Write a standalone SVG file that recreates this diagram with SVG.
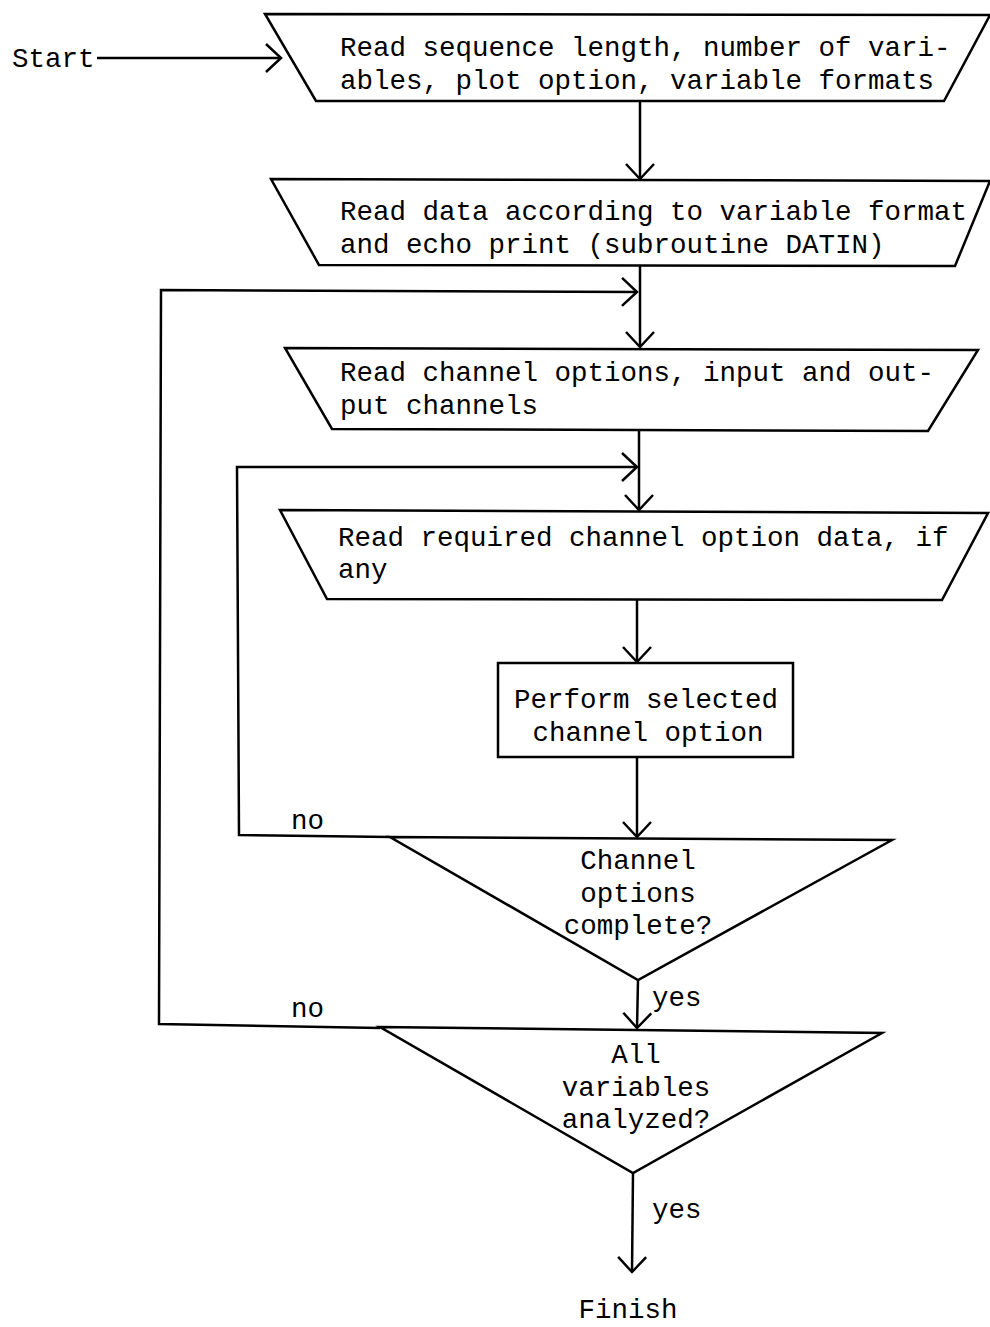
<svg xmlns="http://www.w3.org/2000/svg" width="990" height="1327" viewBox="0 0 990 1327">
<style>
.s{fill:none;stroke:#000;stroke-width:2.5;stroke-linejoin:miter}
.b{fill:#fff;stroke:#000;stroke-width:2.5}
.t{font-family:"Liberation Mono",monospace;font-size:27.5px;fill:#000}
.c{text-anchor:middle}
</style>
<defs>
<marker id="chev" markerUnits="userSpaceOnUse" markerWidth="40" markerHeight="40" refX="0" refY="0" orient="auto" overflow="visible">
<path d="M -15 -14 L 0 0 L -15 14" fill="none" stroke="#000" stroke-width="2.5"/>
</marker>
</defs>
<rect width="990" height="1327" fill="#fff"/>
<g id="connectors">
<line class="s" x1="97" y1="58" x2="281" y2="58" marker-end="url(#chev)"/>
<line class="s" x1="640" y1="101" x2="640" y2="179" marker-end="url(#chev)"/>
<line class="s" x1="640" y1="266" x2="640" y2="347" marker-end="url(#chev)"/>
<polyline class="s" points="380,1028 159,1024 161,290 637,292" marker-end="url(#chev)"/>
<line class="s" x1="639" y1="430" x2="639" y2="510" marker-end="url(#chev)"/>
<polyline class="s" points="390,837 239,835 237,467 637,467" marker-end="url(#chev)"/>
<line class="s" x1="637" y1="600" x2="637" y2="662" marker-end="url(#chev)"/>
<line class="s" x1="637" y1="757" x2="637" y2="837" marker-end="url(#chev)"/>
<line class="s" x1="638" y1="980" x2="637" y2="1028" marker-end="url(#chev)"/>
<line class="s" x1="633" y1="1173" x2="632" y2="1272" marker-end="url(#chev)"/>
<text class="t" x="291" y="829">no</text>
<text class="t" x="291" y="1017">no</text>
<text class="t" x="652" y="1006">yes</text>
<text class="t" x="652" y="1218">yes</text>
</g>
<g id="start"><text class="t" x="12" y="67">Start</text></g>
<g id="read-params">
<polygon class="b" points="265,14 990,15 944,101 316,101"/>
<text class="t" x="340" y="56">Read sequence length, number of vari-</text>
<text class="t" x="340" y="89">ables, plot option, variable formats</text>
</g>
<g id="read-data">
<polygon class="b" points="271,179 990,181 955,266 319,265"/>
<text class="t" x="340" y="220">Read data according to variable format</text>
<text class="t" x="340" y="253">and echo print (subroutine DATIN)</text>
</g>
<g id="read-channel-options">
<polygon class="b" points="285,348 978,350 928,431 332,429"/>
<text class="t" x="340" y="381">Read channel options, input and out-</text>
<text class="t" x="340" y="414">put channels</text>
</g>
<g id="read-option-data">
<polygon class="b" points="280,510 988,513 942,600 327,599"/>
<text class="t" x="338" y="546">Read required channel option data, if</text>
<text class="t" x="338" y="578">any</text>
</g>
<g id="perform-option">
<rect class="b" x="498" y="663" width="295" height="94"/>
<text class="t c" x="646" y="708">Perform selected</text>
<text class="t c" x="648" y="741">channel option</text>
</g>
<g id="channel-complete">
<polygon class="b" points="390,837 892,840 638,980"/>
<text class="t c" x="638" y="869">Channel</text>
<text class="t c" x="638" y="902">options</text>
<text class="t c" x="638" y="934">complete?</text>
</g>
<g id="all-analyzed">
<polygon class="b" points="380,1027 882,1033 633,1173"/>
<text class="t c" x="636" y="1063">All</text>
<text class="t c" x="636" y="1096">variables</text>
<text class="t c" x="636" y="1128">analyzed?</text>
</g>
<g id="finish"><text class="t c" x="628" y="1318">Finish</text></g>
</svg>
